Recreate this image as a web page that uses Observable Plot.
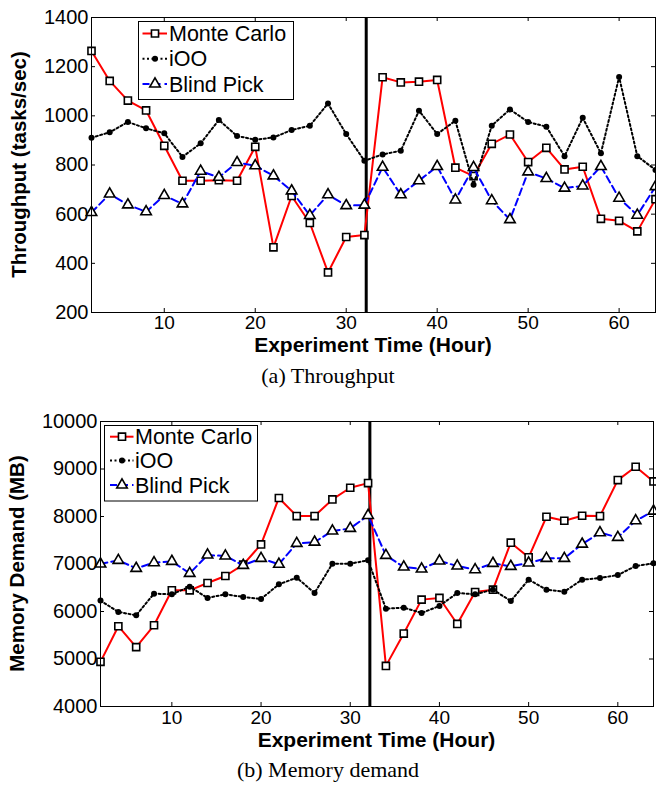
<!DOCTYPE html>
<html>
<head>
<meta charset="utf-8">
<script src="https://cdn.jsdelivr.net/npm/d3@7"></script>
<script src="https://cdn.jsdelivr.net/npm/@observablehq/plot@0.6"></script>
<style>
  body { margin: 0; background: #fff; }
  #page { position: relative; width: 656px; height: 785px; overflow: hidden; background: #fff; }
  .panel { position: absolute; left: 0; }
  .cap { position: absolute; left: 0; width: 656px; text-align: center; font-family: "Liberation Serif", "Times New Roman", serif; font-size: 22px; line-height: 22px; color: #000; white-space: nowrap; }
</style>
</head>
<body>
<div id="page">
  <div id="p1" class="panel" style="top:0px"></div>
  <div id="capA" class="cap" style="top:365px"></div>
  <div id="p2" class="panel" style="top:395px"></div>
  <div id="capB" class="cap" style="top:759px"></div>
</div>
<script>
// ---------- data ----------
const hours = [2,4,6,8,10,12,14,16,18,20,22,24,26,28,30,32,34,36,38,40,42,44,46,48,50,52,54,56,58,60,62,64];
const seriesNames = ["Monte Carlo", "iOO", "Blind Pick"];
const splitHour = [32.2];
const xTicks = [10, 20, 30, 40, 50, 60];

// (a) Throughput (tasks/sec)
const thrMonteCarlo = [1264,1142,1062,1022,878,736,736,738,736,874,465,674,564,363,507,515,1157,1136,1139,1146,789,755,886,924,812,870,782,793,581,573,530,661];
const thrIOO        = [911,933,975,949,929,833,888,983,918,903,912,942,960,1050,926,817,843,858,1021,926,980,720,960,1026,975,956,836,992,848,1158,836,780];
const thrBlindPick  = [607,682,638,610,676,642,775,750,810,797,756,695,595,679,635,637,791,679,736,794,658,790,655,578,772,745,706,715,794,665,596,712];
const thrTicks = [200, 400, 600, 800, 1000, 1200, 1400];

// (b) Memory demand (MB)
const memMonteCarlo = [4940,5690,5250,5710,6446,6446,6600,6747,6986,7413,8390,8009,8009,8360,8605,8703,4855,5535,6250,6285,5738,6411,6460,7448,7140,7995,7911,8016,8009,8766,9047,8738];
const memIOO        = [6229,5990,5920,6376,6362,6523,6285,6362,6306,6264,6572,6712,6390,7007,7007,7077,6060,6081,5969,6116,6390,6362,6460,6222,6670,6460,6418,6670,6705,6768,6958,7014];
const memBlindPick  = [7000,7077,6909,7028,7056,6803,7189,7168,6972,7119,6995,7434,7462,7694,7750,8023,7182,6937,6895,7063,6958,6881,7014,6951,7021,7119,7119,7420,7659,7561,7911,8114];
const memTicks = [4000, 5000, 6000, 7000, 8000, 9000, 10000];

const xTitle = "Experiment Time (Hour)";
const captions = ["(a) Throughput", "(b) Memory demand"];

// ---------- styles ----------
const styles = [
  {stroke: "#ff0000", dash: null, symbol: "square", r: 4, fill: "#fff"},
  {stroke: "#000000", dash: "2,2.5", symbol: "circle", r: 3, fill: "#000"},
  {stroke: "#0000ff", dash: "7,4", symbol: "triangle", r: 3.9, fill: "#fff"}
];
const d3Sym = {square: d3.symbolSquare, circle: d3.symbolCircle, triangle: d3.symbolTriangle};

function makePanel(cfg) {
  const W = 656;
  const innerH = cfg.height - cfg.mt - cfg.mb;
  const innerW = W - cfg.ml - cfg.mr;
  const tl = 4;
  const rows = cfg.series.map(vals => hours.map((h, i) => ({hour: h, value: vals[i]})));
  const fmt = d => String(d);
  const marks = [
    Plot.axisX(xTicks, {tickSize: 0, tickPadding: cfg.xPad, label: null, fontSize: 19, tickFormat: fmt}),
    Plot.axisY(cfg.yTicks, {tickSize: 0, tickPadding: 3, label: null, fontSize: 20, tickFormat: fmt}),
    Plot.tickX(xTicks, {x: d => d, insetTop: innerH - tl, stroke: "#000"}),
    Plot.tickX(xTicks, {x: d => d, insetBottom: innerH - tl, stroke: "#000"}),
    Plot.tickY(cfg.yTicks, {y: d => d, insetRight: innerW - tl, stroke: "#000"}),
    Plot.tickY(cfg.yTicks, {y: d => d, insetLeft: innerW - tl, stroke: "#000"}),
    Plot.ruleX(splitHour, {x: d => d, stroke: "#000", strokeWidth: 3})
  ];
  rows.forEach((data, k) => {
    const s = styles[k];
    marks.push(Plot.line(data, {x: "hour", y: "value", stroke: s.stroke, strokeWidth: 2, strokeDasharray: s.dash}));
    if (s.symbol === "circle") {
      marks.push(Plot.dot(data, {x: "hour", y: "value", r: s.r, fill: "#000", stroke: "none"}));
    } else {
      marks.push(Plot.dot(data, {x: "hour", y: "value", symbol: s.symbol, r: s.r, fill: s.fill, stroke: "#000", strokeWidth: 1.6}));
    }
  });
  marks.push(Plot.frame({stroke: "#000", strokeWidth: 1}));

  const plot = Plot.plot({
    width: W, height: cfg.height,
    marginTop: cfg.mt, marginBottom: cfg.mb, marginLeft: cfg.ml, marginRight: cfg.mr,
    style: {fontFamily: "'Liberation Sans', Arial, sans-serif", fontSize: "20px", background: "#fff", color: "#000", overflow: "visible"},
    x: {domain: [2, 64]},
    y: {domain: cfg.yDomain},
    marks
  });

  const svg = d3.select(plot);
  const font = "'Liberation Sans', Arial, sans-serif";
  // axis titles
  svg.append("text")
    .attr("x", cfg.ml + innerW / 2).attr("y", cfg.xTitleY)
    .attr("text-anchor", "middle").attr("font-family", font).attr("font-weight", "bold")
    .attr("font-size", 21).attr("fill", "#000").text(xTitle);
  svg.append("text")
    .attr("transform", `translate(${cfg.yTitleX},${cfg.mt + innerH / 2}) rotate(-90)`)
    .attr("text-anchor", "middle").attr("font-family", font).attr("font-weight", "bold")
    .attr("font-size", 20.5).attr("fill", "#000").text(cfg.yTitle);

  // legend
  const L = cfg.legend;
  const g = svg.append("g").attr("text-anchor", "start");
  g.append("rect").attr("x", L.x).attr("y", L.y).attr("width", L.w).attr("height", L.h)
    .attr("fill", "#fff").attr("stroke", "#000").attr("stroke-width", 1);
  seriesNames.forEach((name, k) => {
    const s = styles[k];
    const yy = L.rows[k];
    g.append("line").attr("x1", L.lx1).attr("x2", L.lx2).attr("y1", yy).attr("y2", yy)
      .attr("stroke", s.stroke).attr("stroke-width", 2).attr("stroke-dasharray", s.dash);
    if (s.symbol === "circle") {
      g.append("circle").attr("cx", L.mx).attr("cy", yy).attr("r", s.r).attr("fill", "#000");
    } else {
      g.append("path").attr("transform", `translate(${L.mx},${yy})`)
        .attr("d", d3.symbol(d3Sym[s.symbol], Math.PI * s.r * s.r)())
        .attr("fill", s.fill).attr("stroke", "#000").attr("stroke-width", 1.6);
    }
    g.append("text").attr("x", L.tx).attr("y", yy + 7.6).attr("font-family", font)
      .attr("text-anchor", "start")
      .attr("font-size", 21.5).attr("fill", "#000").text(name);
  });
  return plot;
}

document.getElementById("p1").append(makePanel({
  height: 356, mt: 17, mb: 44, ml: 91, mr: 1,
  yDomain: [200, 1400], yTicks: thrTicks, xPad: 3,
  series: [thrMonteCarlo, thrIOO, thrBlindPick],
  yTitle: "Throughput (tasks/sec)", yTitleX: 26, xTitleY: 351.5,
  legend: {x: 138.5, y: 21.5, w: 155, h: 78, lx1: 142.5, lx2: 167, mx: 155, tx: 169, rows: [33.5, 58.8, 84]}
}));

document.getElementById("p2").append(makePanel({
  height: 360, mt: 26, mb: 49, ml: 100, mr: 3,
  yDomain: [4000, 10000], yTicks: memTicks, xPad: 4,
  series: [memMonteCarlo, memIOO, memBlindPick],
  yTitle: "Memory Demand (MB)", yTitleX: 23.5, xTitleY: 352,
  legend: {x: 104.5, y: 30.5, w: 153, h: 75.5, lx1: 110, lx2: 133.5, mx: 122, tx: 135, rows: [41.7, 65.5, 90]}
}));

document.getElementById("capA").textContent = captions[0];
document.getElementById("capB").textContent = captions[1];
</script>
</body>
</html>
